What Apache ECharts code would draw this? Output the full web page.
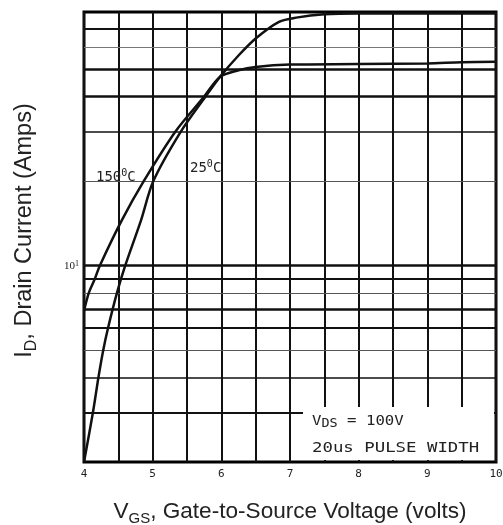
<!DOCTYPE html>
<html>
<head>
<meta charset="utf-8">
<script src="https://cdn.jsdelivr.net/npm/echarts@6/dist/echarts.min.js"></script>
<style>
html,body{margin:0;padding:0;background:#fff;}
#c{width:503px;height:525px;}
</style>
</head>
<body>
<div id="c"></div>
<script>
// ---- data ----
const vgs150 = [4.0, 4.07, 4.16, 4.23, 4.55, 4.87, 5.33, 5.75, 5.98, 6.25, 6.5, 7.0, 8.0, 9.0, 9.5, 10.0];
const id150  = [6.9, 8.0, 9.0, 10.0, 14.5, 20.0, 30.0, 40.0, 47.0, 49.6, 51.0, 52.0, 52.2, 52.5, 53.0, 53.2];
const vgs25  = [4.0, 4.13, 4.21, 4.28, 4.35, 4.48, 4.6, 4.83, 5.01, 5.41, 5.77, 5.98, 6.25, 6.5, 6.84, 7.09, 7.5, 8.0, 10.0];
const id25   = [2.0, 3.0, 4.0, 5.0, 6.0, 8.0, 10.0, 14.5, 20.0, 30.0, 40.0, 47.0, 56.0, 64.4, 73.8, 76.4, 78.5, 79.0, 79.0];
const xTickLabels = [4, 5, 6, 7, 8, 9, 10];
const yGridValues = [3, 4, 5, 6, 7, 8, 9, 10, 20, 30, 40, 50, 60, 70];
const seriesNames = ['150°C', '25°C'];

// ---- styling (kept separate from data) ----
const gridW = {3:2, 4:1.5, 5:1.2, 6:2, 7:2.5, 8:1.2, 9:2, 10:2.5, 20:1.2, 30:1.6, 40:2.5, 50:2.5, 60:1, 70:2};
const gridC = {5:'#555', 8:'#555', 20:'#555', 60:'#777'};

const chart = echarts.init(document.getElementById('c'), null, {renderer:'canvas'});
const zip = (a,b) => a.map((v,i)=>[v,b[i]]);
const curveStyle = {color:'#111', width:2.5};

const option = {
  animation:false,
  grid:{left:84, right:7, top:12, bottom:63, show:true, borderColor:'#000', borderWidth:3,
        backgroundColor:'transparent', containLabel:false, outerBoundsMode:'none'},
  xAxis:{
    type:'value', min:4, max:10, interval:0.5,
    axisLine:{show:false}, axisTick:{show:false},
    splitLine:{show:true, lineStyle:{color:'#111', width:2}},
    axisLabel:{
      margin:7, fontFamily:'DejaVu Sans Mono', fontSize:11, color:'#222',
      formatter: v => xTickLabels.indexOf(v) >= 0 ? String(v) : ''
    },
    name:'V{sub|GS}, Gate-to-Source Voltage (volts)',
    nameLocation:'middle', nameGap:36,
    nameTextStyle:{fontFamily:'Liberation Sans', fontSize:22.6, color:'#222', lineHeight:28,
      rich:{sub:{fontFamily:'Liberation Sans', fontSize:15, verticalAlign:'bottom', color:'#222', lineHeight:28}}}
  },
  yAxis:{
    type:'log', logBase:10, min:2, max:80,
    axisLine:{show:false}, axisTick:{show:false},
    splitLine:{show:false}, minorSplitLine:{show:false},
    axisLabel:{
      margin:5, fontFamily:'Liberation Serif', fontSize:11, color:'#222',
      formatter: v => Math.abs(v-10) < 1e-6 ? '10{sup|1}' : '',
      rich:{sup:{fontFamily:'Liberation Serif', fontSize:8, verticalAlign:'top', color:'#222'}}
    },
    name:'I{sub|D}, Drain Current (Amps)',
    nameLocation:'middle', nameGap:44,
    nameTextStyle:{fontFamily:'Liberation Sans', fontSize:23.5, color:'#222', lineHeight:30, padding:[0,0,0,13],
      rich:{sub:{fontFamily:'Liberation Sans', fontSize:16, verticalAlign:'bottom', color:'#222', lineHeight:30}}}
  },
  series:[
    {
      name:seriesNames[0], type:'line', data:zip(vgs150,id150), showSymbol:false, symbol:'none',
      smooth:0.3, lineStyle:curveStyle, z:5,
      markLine:{
        silent:true, symbol:['none','none'], label:{show:false}, z:3,
        data: yGridValues.map(v => ({yAxis:v, lineStyle:{type:'solid', width:gridW[v], color:gridC[v]||'#111'}}))
      }
    },
    {
      name:seriesNames[1], type:'line', data:zip(vgs25,id25), showSymbol:false, symbol:'none',
      smooth:0.3, lineStyle:curveStyle, z:5
    }
  ],
  graphic:[
    {type:'rect', z:100, shape:{x:303, y:407, width:191, height:53}, style:{fill:'#fff'}},
    {type:'text', z:101, x:312, y:412, scaleX:1.12,
      style:{text:'V{sub|DS} = 100V', fontFamily:'DejaVu Sans Mono', fontSize:14, fill:'#222', lineHeight:18,
        rich:{sub:{fontFamily:'DejaVu Sans Mono', fontSize:12, verticalAlign:'bottom', fill:'#222', lineHeight:18}}}},
    {type:'text', z:101, x:312, y:441, scaleX:1.24,
      style:{text:'20us PULSE WIDTH', fontFamily:'DejaVu Sans Mono', fontSize:14, fill:'#222'}},
    {type:'text', z:101, x:96, y:168,
      style:{text:'150{sup|0}C', fontFamily:'DejaVu Sans Mono', fontSize:14, fill:'#222', lineHeight:18,
        rich:{sup:{fontFamily:'DejaVu Sans Mono', fontSize:10, verticalAlign:'top', fill:'#222', lineHeight:18}}}},
    {type:'text', z:101, x:190, y:159,
      style:{text:'25{sup|0}C', fontFamily:'DejaVu Sans Mono', fontSize:14, fill:'#222', lineHeight:18,
        rich:{sup:{fontFamily:'DejaVu Sans Mono', fontSize:10, verticalAlign:'top', fill:'#222', lineHeight:18}}}}
  ]
};
chart.setOption(option);
</script>
</body>
</html>
